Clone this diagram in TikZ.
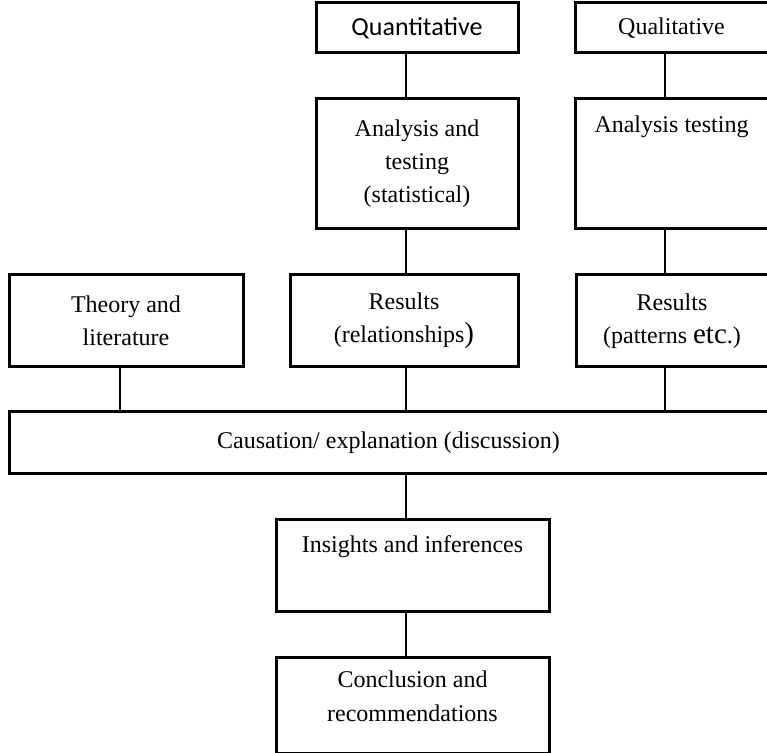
\documentclass[tikz,border=0pt]{standalone}
\usepackage{fontspec}
\setmainfont{Liberation Serif}
\newfontfamily\calibrifont{Carlito}
\usetikzlibrary{positioning}

\begin{document}
\begin{tikzpicture}[
    % one unit is one pixel of the original, y runs downwards
    x=0.5pt, y=-0.5pt,
    box/.style={draw, line width=1.5pt, inner sep=0pt, align=center,
        font=\fontsize{12}{16.5}\selectfont},
    link/.style={line width=1pt} % connector lines
]
\useasboundingbox (0,0) rectangle (767,753);

% Where the vertical connectors run
\coordinate (lefttrunk) at (120,0);
\coordinate (midtrunk) at (406,0);
\coordinate (righttrunk) at (665,0);

% Top row: the two kinds of data
\node[box, minimum width=101pt, minimum height=25pt] (quant) at (417,28)
    {\calibrifont\fontsize{13}{16}\selectfont Quantitative};
\node[box, minimum width=96.5pt, minimum height=25pt] (qual) at (671.5,28)
    {Qualitative};

% Analysis boxes
\node[box, minimum width=101pt, minimum height=65pt] (anal1) at (417,164)
    {Analysis and\\ testing\\ (statistical)};
\node[box, minimum width=96.5pt, text height=17pt, text depth=48pt] (anal2) at (671.5,164)
    {Analysis testing};

% Results row
\node[box, minimum width=117pt, minimum height=46pt] (theory) at (126,321)
    {Theory and\\ literature};
\node[box, minimum width=114pt, minimum height=46pt] (res1) at (404,321)
    {Results\\ (relationships{\fontsize{14.5}{16}\selectfont )}};
\node[box, minimum width=96pt, minimum height=46pt] (res2) at (672,321)
    {Results\\ (patterns {\fontsize{14.5}{16}\selectfont etc}.)};

% Discussion bar
\node[box, minimum width=379.5pt, minimum height=31pt] (cause) at (388.5,443)
    {Causation/ explanation (discussion)};

% Bottom boxes
\node[box, minimum width=136.5pt, text height=16.5pt, text depth=29.5pt] (ins) at (412.5,566)
    {Insights and inferences};
\node[box, minimum width=136.5pt, text height=15pt, text depth=33pt] (concl) at (412.5,706)
    {\parbox[t]{130pt}{\centering\fontsize{12}{17}\selectfont Conclusion and\\ recommendations}};

% Connectors
\draw[link] (quant.south -| midtrunk) -- (anal1.north -| midtrunk);
\draw[link] (qual.south -| righttrunk) -- (anal2.north -| righttrunk);
\draw[link] (anal1.south -| midtrunk) -- (res1.north -| midtrunk);
\draw[link] (anal2.south -| righttrunk) -- (res2.north -| righttrunk);
\draw[link] (theory.south -| lefttrunk) -- (cause.north -| lefttrunk);
\draw[link] (res1.south -| midtrunk) -- (cause.north -| midtrunk);
\draw[link] (res2.south -| righttrunk) -- (cause.north -| righttrunk);
\draw[link] (cause.south -| midtrunk) -- (ins.north -| midtrunk);
\draw[link] (ins.south -| midtrunk) -- (concl.north -| midtrunk);

\end{tikzpicture}
\end{document}
